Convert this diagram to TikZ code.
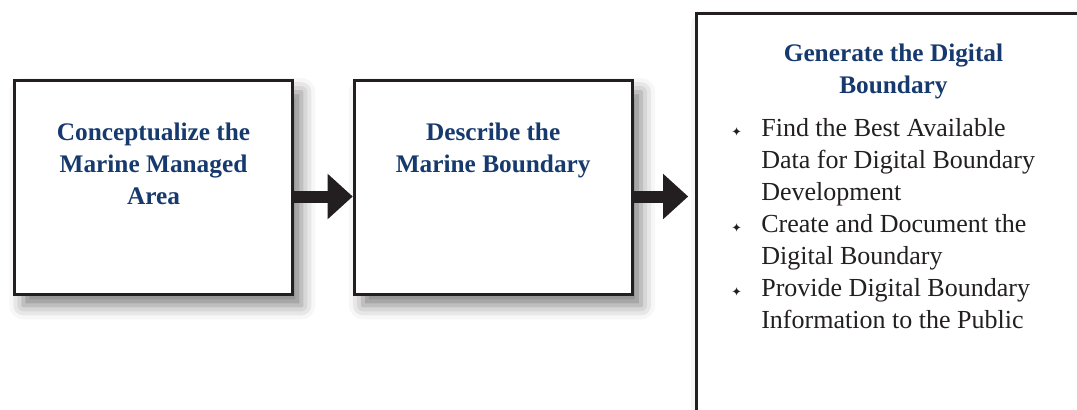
\documentclass[tikz,border=0pt]{standalone}
\usepackage{fontspec}
\setmainfont{Liberation Serif}
\newfontfamily\symfont{DejaVu Sans}
\usetikzlibrary{positioning}
\usetikzlibrary{arrows.meta}
\usetikzlibrary{shadows.blur}
\definecolor{navy}{RGB}{22,58,110}
\definecolor{ink}{RGB}{35,31,32}
\newcommand{\stepmark}{{\symfont\fontsize{9}{10}\selectfont ✦}}

\begin{document}
\begin{tikzpicture}[x=0.025cm, y=-0.025cm,
				stage/.style = {rectangle, draw=ink, line width=2pt, fill=white,
					blur shadow={shadow xshift=0.22cm, shadow yshift=-0.28cm,
						shadow blur radius=0.35cm, shadow opacity=50}},
				heading/.style = {inner sep=0pt, align=center, text=navy,
					font=\bfseries\fontsize{18}{22.8}\selectfont},
				items/.style = {inner sep=0pt, text=ink,
					font=\fontsize{18.5}{22.8}\selectfont},
				flow/.style = {draw=ink, line width=0.3cm,
					-{Triangle[length=0.63cm, width=1.1cm]}}]
				
				\useasboundingbox (0,0) rectangle (1077,409);
				
				% Box A
				\node[stage, minimum width=6.95cm, minimum height=5.33cm] (concept) at (153.5,187.5) {};
				\node[heading, below=1.08cm of concept.north] (conceptT) {Conceptualize the\\Marine Managed\\Area};
				
				% Box B
				\node[stage, minimum width=6.95cm, minimum height=5.33cm, right=1.47cm of concept] (describe) {};
				\node[heading, below=1.08cm of describe.north] (describeT) {Describe the\\Marine Boundary};
				
				% Box C
				\node[stage, minimum width=9.85cm, minimum height=10.45cm, anchor=north west] (generate) at (695,12) {};
				\node[heading, below=0.8cm of generate.north] (generateT) {Generate the Digital\\Boundary};
				\node[items, anchor=north west, below right=2.54cm and 0.9cm of generate.north west] (tasks) {%
					\begin{tabular}{@{}p{0.75cm}@{}l@{}}
						\stepmark & Find the Best Available\\
						& Data for Digital Boundary\\
						& Development\\
						\stepmark & Create and Document the\\
						& Digital Boundary\\
						\stepmark & Provide Digital Boundary\\
						& Information to the Public
					\end{tabular}};
				
				% Arrows
				\draw[flow] ([yshift=-0.225cm]concept.east) -- ([yshift=-0.225cm]describe.west);
				\draw[flow, shorten >=0.17cm] ([yshift=-0.225cm]describe.east) -- ([yshift=-0.225cm]describe.east -| generate.west);
				
		\end{tikzpicture}
\end{document}
